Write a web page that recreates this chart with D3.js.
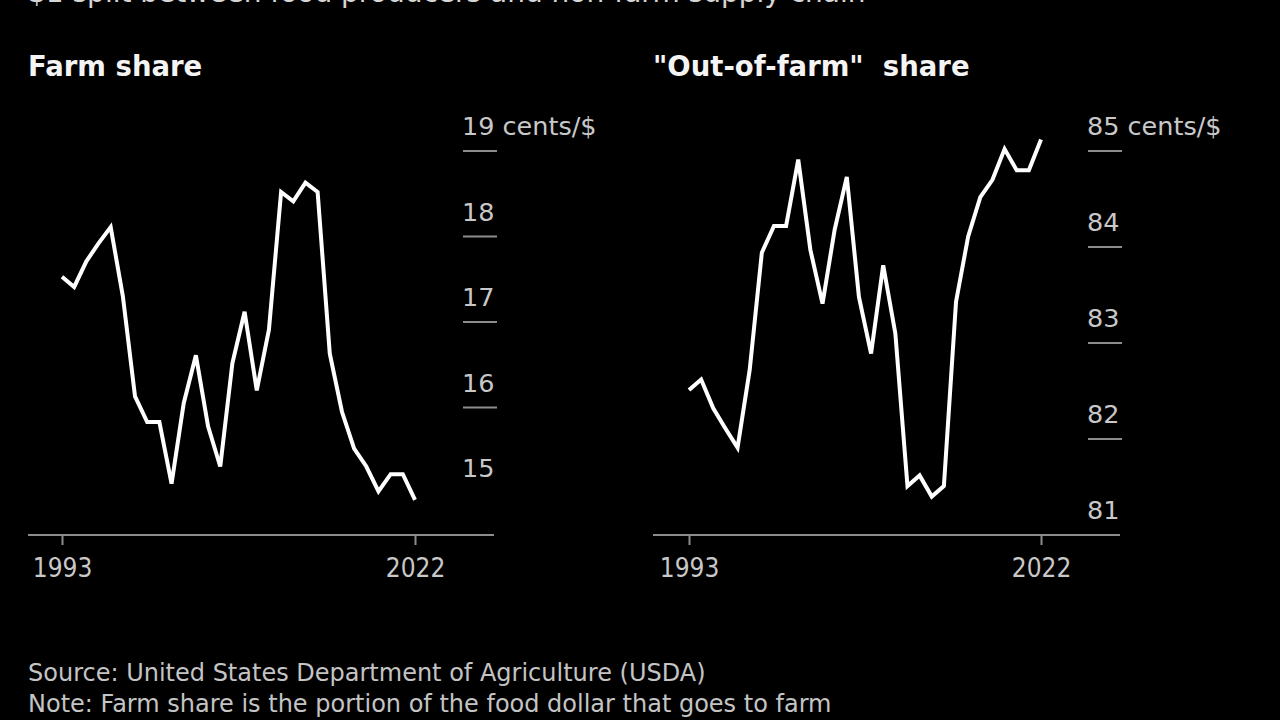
<!DOCTYPE html>
<html>
<head>
<meta charset="utf-8">
<script src="https://cdn.jsdelivr.net/npm/d3@7/dist/d3.min.js"></script>
<style>
  html, body { margin: 0; padding: 0; background: #000; }
  svg { display: block; }
</style>
</head>
<body>
<div class="card"></div>
<script>
/* global d3*/

var years = d3.range(1993, 2023);

// farm share, cents per food dollar
var farmShare = [17.53, 17.41, 17.71, 17.92, 18.11, 17.30, 16.13, 15.83, 15.83, 15.11,
                 16.05, 16.61, 15.78, 15.31, 16.52, 17.12, 16.20, 16.91, 18.52, 18.41,
                 18.63, 18.52, 16.63, 15.95, 15.52, 15.31, 15.02, 15.22, 15.22, 14.92];

// "out-of-farm" share, cents per food dollar
var outShare = [82.51, 82.62, 82.32, 82.11, 81.91, 82.72, 83.94, 84.22, 84.22, 84.91,
                83.97, 83.41, 84.18, 84.73, 83.48, 82.89, 83.81, 83.10, 81.51, 81.62,
                81.40, 81.51, 83.43, 84.11, 84.52, 84.70, 85.02, 84.80, 84.80, 85.12];

var farmTicks = [15, 16, 17, 18, 19];
var outTicks = [81, 82, 83, 84, 85];
var yearTicks = [1993, 2022];

var width = 1280,
    height = 720;

var svg = d3.select(".card").append("svg")
    .attr("width", width)
    .attr("height", height);

svg.append("rect").attr("width", width).attr("height", height).attr("fill", "#000");

var condensed = "'DejaVu Sans Condensed', 'DejaVu Sans', sans-serif";
var regular = "'DejaVu Sans', sans-serif";

// subtitle, cut off at the top edge like in the source frame
svg.append("text")
    .attr("x", 28).attr("y", 2)
    .attr("fill", "#d6d6d6")
    .style("font-family", regular)
    .style("font-size", "28px")
    .text("$1 split between food producers and non-farm supply chain");

var drawPanel = function(opts) {
    var g = svg.append("g");

    var x = d3.scaleLinear().domain([1993, 2022]).range([opts.x0, opts.x1]);
    var y = d3.scaleLinear().domain(opts.domain).range([opts.yBottom, opts.yTop]);

    g.append("text")
        .attr("x", opts.titleX).attr("y", 76)
        .attr("fill", "#f4f4f4")
        .style("font-family", regular)
        .style("font-weight", "bold")
        .style("font-size", "27.5px")
        .style("white-space", "pre")
        .text(opts.title);

    // baseline
    g.append("line")
        .attr("x1", opts.axisL).attr("x2", opts.axisR)
        .attr("y1", 535).attr("y2", 535)
        .attr("stroke", "#8c8c8c").attr("stroke-width", 2);

    var xAxis = d3.axisBottom(x).tickValues(yearTicks).tickFormat(d3.format("d"))
        .tickSize(10).tickPadding(14);
    var xa = g.append("g").attr("transform", "translate(0,535)").call(xAxis);
    xa.select(".domain").remove();
    xa.selectAll("line").attr("stroke", "#8c8c8c").attr("stroke-width", 2);
    xa.selectAll("text")
        .attr("fill", "#c8c8c8")
        .style("font-family", condensed)
        .style("font-size", "26px");

    // y ticks: short dashes on the right with labels above
    var tk = g.selectAll(".ytick").data(opts.ticks).enter().append("g")
        .attr("class", "ytick")
        .attr("transform", function(d) { return "translate(0," + y(d) + ")"; });
    tk.filter(function(d, i) { return i > 0; }).append("line")
        .attr("x1", opts.tickX).attr("x2", opts.tickX + 34)
        .attr("stroke", "#8c8c8c").attr("stroke-width", 2);
    tk.append("text")
        .attr("x", opts.tickX - 1).attr("y", -16)
        .attr("fill", "#c8c8c8")
        .style("font-family", regular)
        .style("font-size", "25.5px")
        .text(function(d, i) { return i == opts.ticks.length - 1 ? d + " cents/$" : d; });

    var line = d3.line()
        .x(function(d, i) { return x(years[i]); })
        .y(function(d) { return y(d); });

    g.append("path")
        .datum(opts.values)
        .attr("d", line)
        .attr("fill", "none")
        .attr("stroke", "#fff")
        .attr("stroke-width", 4)
        .attr("stroke-linejoin", "miter");
};

drawPanel({
    title: "Farm share", titleX: 28,
    x0: 62, x1: 415, axisL: 28, axisR: 494,
    domain: [15, 19], yBottom: 493, yTop: 151,
    ticks: farmTicks, tickX: 463,
    values: farmShare
});

drawPanel({
    title: "\"Out-of-farm\"  share", titleX: 653,
    x0: 689, x1: 1041, axisL: 653, axisR: 1120,
    domain: [81, 85], yBottom: 535, yTop: 151,
    ticks: outTicks, tickX: 1088,
    values: outShare
});

var foot = svg.append("g")
    .attr("fill", "#c4c4c4")
    .style("font-family", regular)
    .style("font-size", "24px");
foot.append("text").attr("x", 28).attr("y", 681)
    .text("Source: United States Department of Agriculture (USDA)");
foot.append("text").attr("x", 28).attr("y", 712)
    .text("Note: Farm share is the portion of the food dollar that goes to farm");
</script>
</body>
</html>
